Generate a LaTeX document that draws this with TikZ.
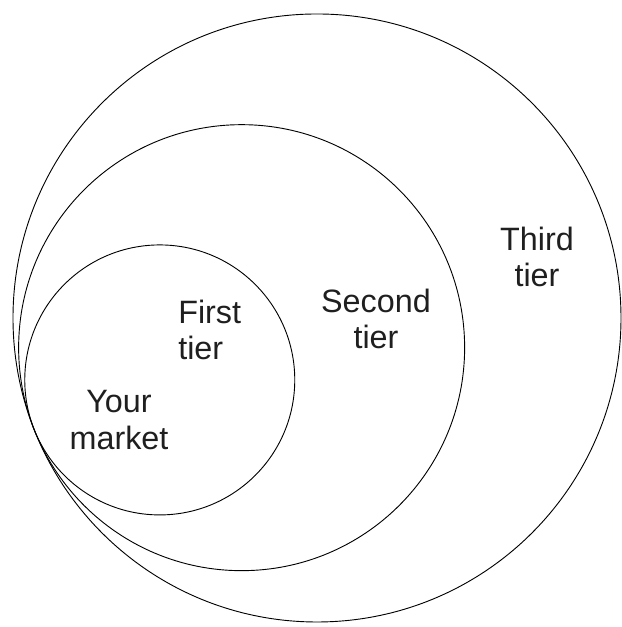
\documentclass[tikz,border=0pt]{standalone}
\usepackage{fontspec}
\setmainfont{Liberation Sans}
\usetikzlibrary{positioning}

\begin{document}
\begin{tikzpicture}[
        ring/.style={circle, draw, line width=0.65pt, inner sep=0pt},
        tiertext/.style={align=center, text=black!88, font=\fontsize{23}{26}\selectfont}
    ]
        \useasboundingbox (0,0) rectangle (15.525,15.675);

        % Common touching point
        \coordinate (touch) at (0.854,4.94);

        % Rings
        \path (touch) ++(21.5:7.6) node[ring, minimum size=15.2cm] (third) {};
        \path (touch) ++(21.5:5.575) node[ring, minimum size=11.15cm] (second) {};
        \path (touch) ++(21.5:3.375) node[ring, minimum size=6.75cm] (first) {};

        % Labels
        \node[tiertext] (thirdlabel) at (13.425,9.25) {Third\\tier};
        \node[tiertext] (secondlabel) at (9.4,7.7) {Second\\tier};
        \node[tiertext, align=left, anchor=west, inner sep=0pt] (firstlabel) at (4.45,7.425) {First\\tier};
        \node[tiertext] (marketlabel) at (2.975,5.175) {Your\\market};
    \end{tikzpicture}
\end{document}
